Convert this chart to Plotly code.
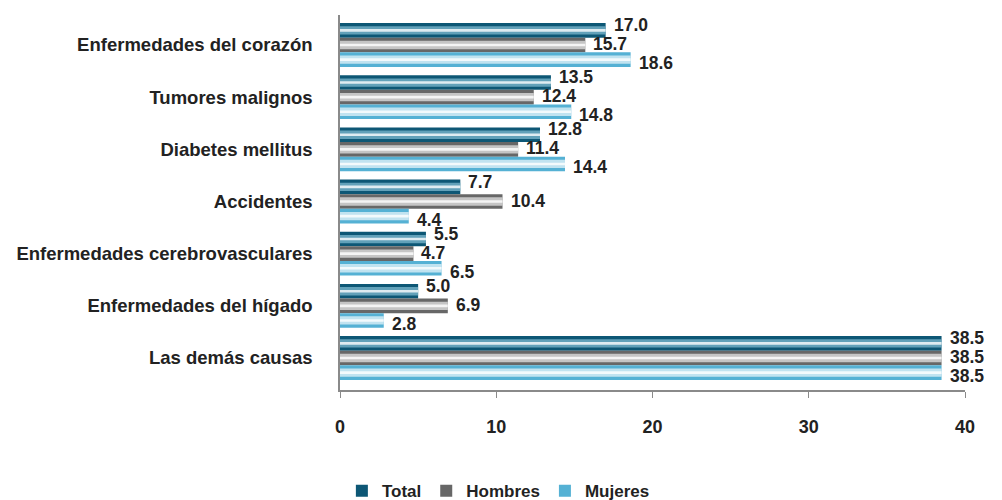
import plotly.graph_objects as go

categorias = [
    'Enfermedades del corazón',
    'Tumores malignos',
    'Diabetes mellitus',
    'Accidentes',
    'Enfermedades cerebrovasculares',
    'Enfermedades del hígado',
    'Las demás causas'
]

total = [17.0, 13.5, 12.8, 7.7, 5.5, 5.0, 38.5]
hombres = [15.7, 12.4, 11.4, 10.4, 4.7, 6.9, 38.5]
mujeres = [18.6, 14.8, 14.4, 4.4, 6.5, 2.8, 38.5]

series = [
    ('Total', total, '#0d5775', '#7fb9d0'),
    ('Hombres', hombres, '#676767', '#e4e4e4'),
    ('Mujeres', mujeres, '#55b1d4', '#e6f4fa'),
]
label_shift = [-20, -1, 18]

fig = go.Figure()
w = 0.28
for i, (name, vals, col, light) in enumerate(series):
    off = -0.42 + i * w
    fig.add_trace(go.Bar(
        y=categorias, x=vals, orientation='h', name=name,
        offset=off, width=w,
        marker=dict(color=col, line=dict(width=0))
    ))
    # highlight stripes for the cylinder look
    fig.add_trace(go.Bar(
        y=categorias, x=vals, orientation='h', showlegend=False, hoverinfo='skip',
        offset=off + 0.06, width=0.16,
        marker=dict(color=light, line=dict(width=0), opacity=0.75)
    ))
    fig.add_trace(go.Bar(
        y=categorias, x=vals, orientation='h', showlegend=False, hoverinfo='skip',
        offset=off + 0.115, width=0.05,
        marker=dict(color='#ffffff', line=dict(width=0), opacity=0.8)
    ))
    # value labels
    for cat, v in zip(categorias, vals):
        fig.add_annotation(
            x=v, y=cat, text=f'{v:.1f}', showarrow=False,
            xanchor='left', yanchor='middle', xshift=6, yshift=-label_shift[i],
            font=dict(size=17.5, color='#222222', weight='bold')
        )

fig.update_layout(
    width=1002, height=500,
    barmode='overlay',
    plot_bgcolor='white', paper_bgcolor='white',
    margin=dict(l=332, r=45, t=7, b=118, autoexpand=False),
    font=dict(family='Liberation Sans, Arial', size=17, color='#222222'),
    xaxis=dict(
        range=[0, 40], dtick=10, showgrid=False, zeroline=False,
        showline=True, linecolor='#8a8a8a', linewidth=1.5,
        ticks='outside', ticklen=6, tickcolor='#8a8a8a',
        tickfont=dict(size=18, weight='bold'), ticklabelstandoff=14
    ),
    yaxis=dict(
        autorange='reversed', showgrid=False,
        showline=True, linecolor='#8a8a8a', linewidth=1.5,
        tickfont=dict(size=18.5, weight='bold'), ticklabelstandoff=22
    ),
    legend=dict(
        orientation='h', x=0.003, xanchor='left', y=-0.27, yanchor='middle',
        font=dict(size=17, weight='bold'), traceorder='normal'
    ),
    showlegend=True
)

fig.write_html('out.html')
